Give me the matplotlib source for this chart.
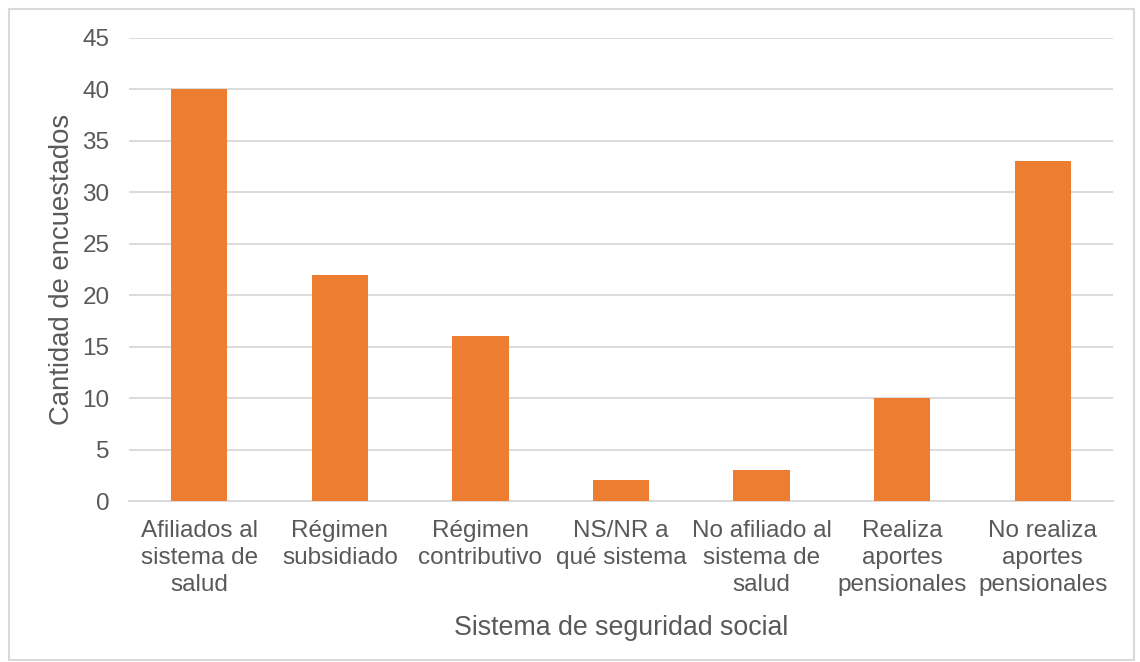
import matplotlib.pyplot as plt
from matplotlib.patches import Rectangle

categories = [
    "Afiliados al\nsistema de\nsalud",
    "Régimen\nsubsidiado",
    "Régimen\ncontributivo",
    "NS/NR a\nqué sistema",
    "No afiliado al\nsistema de\nsalud",
    "Realiza\naportes\npensionales",
    "No realiza\naportes\npensionales",
]
values = [40, 22, 16, 2, 3, 10, 33]
y_ticks = [0, 5, 10, 15, 20, 25, 30, 35, 40, 45]

plt.rcParams['font.family'] = ['Liberation Sans', 'DejaVu Sans']
text_color = '#595959'
grid_color = '#D9D9D9'

fig = plt.figure(figsize=(11.4, 6.62), dpi=100)
ax = fig.add_axes([129 / 1140, 1 - 501 / 662, (1113 - 129) / 1140, (501 - 38) / 662])

x = list(range(len(categories)))
ax.bar(x, values, width=0.4, color='#ED7D31', zorder=3)

ax.set_xlim(-0.5, len(categories) - 0.5)
ax.set_ylim(0, 45)
ax.set_yticks(y_ticks)
ax.set_xticks(x)
ax.set_xticklabels(categories, fontsize=17.5, color=text_color, linespacing=1.27)
ax.tick_params(axis='y', labelsize=17.5, labelcolor=text_color, length=0, pad=14)
ax.tick_params(axis='x', length=0, pad=14)
ax.yaxis.grid(True, color=grid_color, linewidth=1.3, zorder=0)
for s in ['top', 'right', 'left']:
    ax.spines[s].set_visible(False)
ax.spines['bottom'].set_color(grid_color)
ax.spines['bottom'].set_linewidth(1.3)

ax.set_xlabel("Sistema de seguridad social", fontsize=19.3, color=text_color, labelpad=14)
ax.set_ylabel("Cantidad de encuestados", fontsize=19.8, color=text_color, labelpad=5)

fig.patches.append(Rectangle((9 / 1140, 1 - 660 / 662), 1125 / 1140, 651 / 662,
                             transform=fig.transFigure, fill=False,
                             edgecolor=grid_color, linewidth=1.5))

fig.savefig('out.png', dpi=100)
